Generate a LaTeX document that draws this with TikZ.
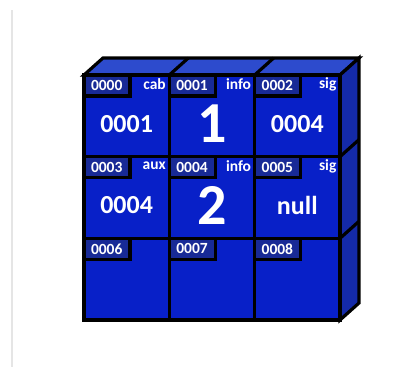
\documentclass[tikz,border=0pt]{standalone}
\usepackage{fontspec}
\setmainfont{Carlito}
\definecolor{boxblue}{RGB}{8,32,200}
\definecolor{tabblue}{RGB}{24,42,150}
\definecolor{topblue}{RGB}{45,75,205}
\definecolor{sideblue}{RGB}{20,42,168}
\usepackage{tikz}
\usetikzlibrary{positioning,calc}

\begin{document}
\begin{tikzpicture}[x=1pt,y=1pt,line join=miter,
    every node/.style={font=\bfseries,text=white},
    edge/.style={draw=black,line width=3.2pt},
    cellbox/.style={edge,fill=boxblue,minimum width=85.33pt,minimum height=81.67pt,inner sep=0pt},
    tabbox/.style={edge,fill=tabblue,text width=32pt,minimum height=21pt,inner xsep=7pt,inner ysep=0pt,align=left,font=\bfseries\fontsize{15.5}{15.5}\selectfont},
    tagtext/.style={inner sep=0pt,font=\bfseries\fontsize{15.5}{15.5}\selectfont},
    midnum/.style={font=\bfseries\fontsize{26}{26}\selectfont},
    bignum/.style={font=\bfseries\fontsize{58}{58}\selectfont}]
  \useasboundingbox (0,0) rectangle (416,367);
  \draw[gray!20,line width=2pt] (12,0) -- (12,357);
  % top and side of the block
  \filldraw[edge,fill=topblue] (84,292) -- (103,309) -- (359,309) -- (340,292) -- cycle;
  \filldraw[edge,fill=sideblue] (340,292) -- (359,309) -- (359,64) -- (340,47) -- cycle;
  \foreach \k in {1,2} {
    \draw[edge] (84+\k*85.33,292) -- ++(19,17);
    \draw[edge] (340,292-\k*81.67) -- ++(19,17);
  }
  % front cells
  \foreach \addr/\tag/\val/\numstyle [count=\i from 0] in
      {0000/cab/0001/midnum, 0001/info/1/bignum, 0002/sig/0004/midnum,
       0003/aux/0004/midnum, 0004/info/2/bignum, 0005/sig/null/midnum,
       0006///midnum, 0007///midnum, 0008///midnum} {
    \pgfmathtruncatemacro{\col}{mod(\i,3)}
    \pgfmathtruncatemacro{\row}{\i/3}
    \node[cellbox] (cell\i) at (84+42.67+\col*85.33, 292-40.83-\row*81.67) {};
    \node[tabbox,anchor=north west] (tab\i) at (cell\i.north west) {\addr};
    \node[tagtext,anchor=east] (tag\i) at ($(cell\i.north east)+(-5,-11)$) {\tag};
    \node[\numstyle] (val\i) at ($(cell\i.center)+(0,-8)$) {\val};
  }
\end{tikzpicture}
\end{document}
